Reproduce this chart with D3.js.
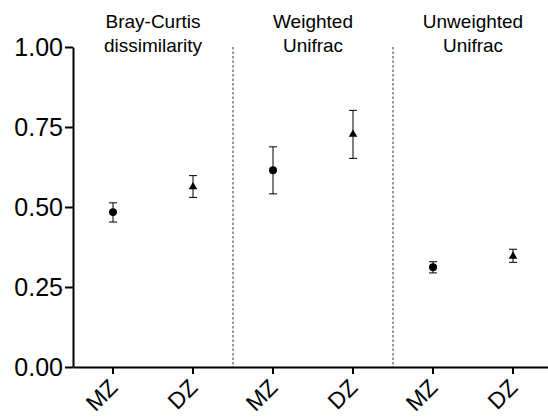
<!DOCTYPE html>
<html><head><meta charset="utf-8">
<script src="https://cdn.jsdelivr.net/npm/d3@7"></script>
<style>body{margin:0;background:#fff}svg{display:block}</style>
</head><body>
<svg id="c" width="548" height="417"></svg>
<script>
const groups = ["Bray-Curtis|dissimilarity", "Weighted|Unifrac", "Unweighted|Unifrac"];
const categories = ["MZ", "DZ", "MZ", "DZ", "MZ", "DZ"];
const means = [0.484, 0.563, 0.615, 0.727, 0.312, 0.346];
const lower = [0.453, 0.530, 0.541, 0.652, 0.294, 0.327];
const upper = [0.513, 0.598, 0.688, 0.802, 0.329, 0.368];
const markers = ["circle", "triangle", "circle", "triangle", "circle", "triangle"];
const yTicks = [0, 0.25, 0.5, 0.75, 1.0];

const svg = d3.select("#c");
const font = "'Liberation Sans', Arial, Helvetica, sans-serif";
const x = d3.scaleBand().domain(d3.range(6)).range([73, 553]);
const y = d3.scaleLinear().domain([0, 1]).range([367, 47]);
const cx = i => x(i) + x.bandwidth() / 2;

// dividers
[2, 4].forEach(i => {
  svg.append("line").attr("x1", x(i)).attr("x2", x(i))
    .attr("y1", y(1)).attr("y2", y(0))
    .attr("stroke", "#333").attr("stroke-width", 1).attr("stroke-dasharray", "2.5,2");
});

// y axis
const ya = svg.append("g").attr("transform", "translate(73,0)")
  .call(d3.axisLeft(y).tickValues(yTicks).tickFormat(d3.format(".2f")).tickSize(8).tickSizeOuter(0).tickPadding(2));
ya.select(".domain").attr("stroke-width", 2);
ya.selectAll(".tick line").attr("stroke-width", 2);
ya.selectAll(".tick text").attr("font-family", font).attr("font-size", 25).attr("fill", "#000");

// x axis
const xa = svg.append("g").attr("transform", "translate(0,367)")
  .call(d3.axisBottom(x).tickFormat(i => categories[i]).tickSize(7).tickSizeOuter(0));
xa.select(".domain").attr("stroke-width", 2);
xa.selectAll(".tick line").attr("stroke-width", 2);
xa.selectAll(".tick text").attr("font-family", font).attr("font-size", 23).attr("fill", "#000")
  .attr("text-anchor", "end").attr("dy", 0)
  .attr("transform", "translate(6,22) rotate(-45)").attr("y", 0).attr("x", 0);

// group titles
groups.forEach((g, k) => {
  const mx = (cx(2 * k) + cx(2 * k + 1)) / 2;
  const t = svg.append("text").attr("text-anchor", "middle").attr("font-family", font).attr("font-size", 19).attr("fill", "#000");
  g.split("|").forEach((s, j) => t.append("tspan").attr("x", mx).attr("y", 28 + j * 24).text(s));
});

// error bars
const pts = svg.append("g");
means.forEach((m, i) => {
  const X = cx(i);
  pts.append("line").attr("x1", X).attr("x2", X).attr("y1", y(lower[i])).attr("y2", y(upper[i])).attr("stroke", "#000").attr("stroke-width", 1);
  [lower[i], upper[i]].forEach(v => pts.append("line").attr("x1", X - 4).attr("x2", X + 4).attr("y1", y(v)).attr("y2", y(v)).attr("stroke", "#000").attr("stroke-width", 1));
  const sym = markers[i] === "circle" ? d3.symbolCircle : d3.symbolTriangle;
  const size = markers[i] === "circle" ? 50 : 32;
  pts.append("path").attr("d", d3.symbol().type(sym).size(size)())
    .attr("transform", `translate(${X},${y(m)})`).attr("fill", "#000");
});
</script>
</body></html>
